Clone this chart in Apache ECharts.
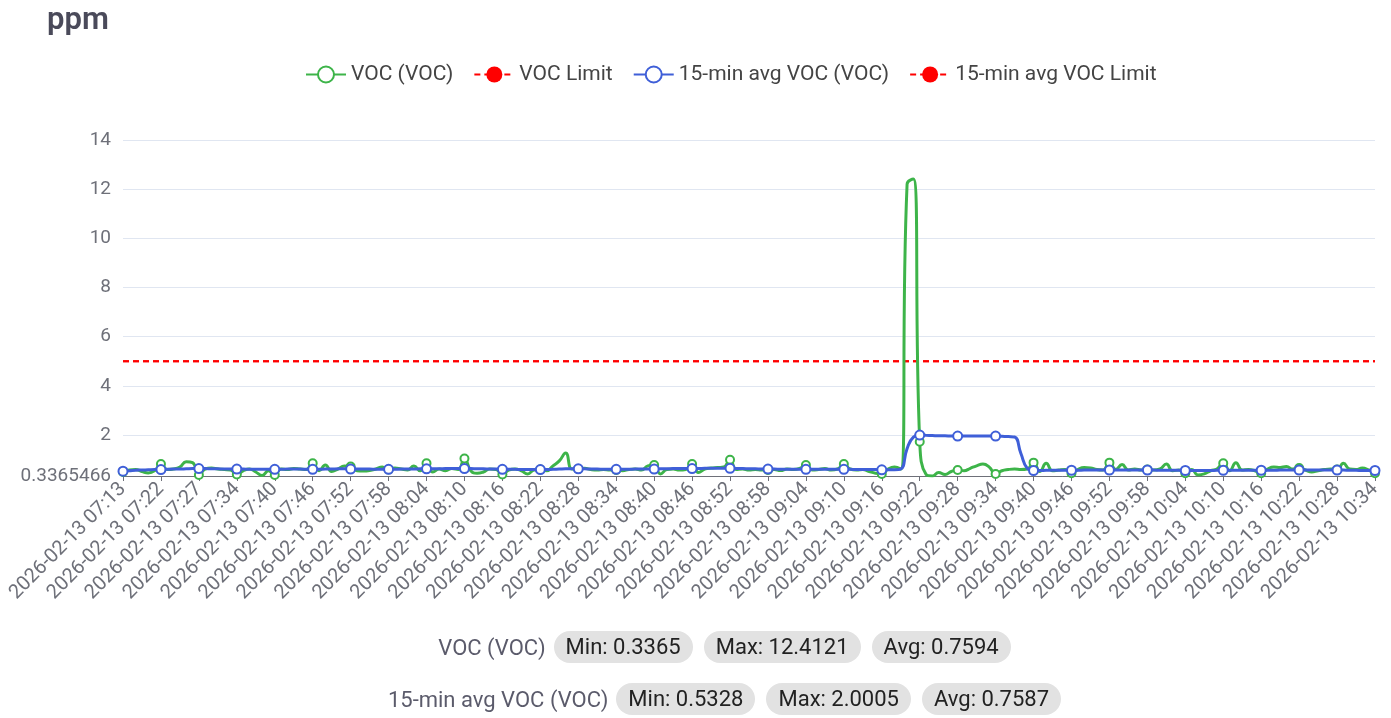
<!DOCTYPE html>
<html>
<head>
<meta charset="utf-8">
<script src="https://cdn.jsdelivr.net/npm/echarts@6/dist/echarts.min.js"></script>
<style>
  html, body { margin: 0; padding: 0; background: #fff; width: 1391px; height: 718px; overflow: hidden; }
  #chart { position: absolute; left: 0; top: 0; width: 1391px; height: 718px; }
  .stats { position: absolute; left: 58px; right: 0; display: flex; justify-content: center; align-items: center; font-family: Roboto, "Noto Sans", sans-serif; }
  .stats .name { color: #5b5b6b; font-size: 22px; margin-right: 8px; }
  .stats .pill { background: #e2e2e2; border-radius: 16px; padding: 0 12px; height: 32px; line-height: 32px; font-size: 22px; color: #222; margin-right: 11px; }
  .stats .pill:last-child { margin-right: 0; }
</style>
</head>
<body>
<div id="chart"></div>
<div class="stats" id="stats1" style="top:631px"></div>
<div class="stats" id="stats2" style="top:683px"></div>
<script>
// Measurement day and sample times (irregular at the start, then one per minute)
const day = '2026-02-13';
const firstTimes = [
  '07:13:00', '07:14:30', '07:16:00', '07:17:30', '07:19:00', '07:20:30',
  '07:22:00', '07:22:50', '07:23:40', '07:24:30', '07:25:20', '07:26:10',
  '07:27:00', '07:28:10', '07:29:20', '07:30:30', '07:31:40', '07:32:50'
];
const minuteStart = '07:34';
const minuteEnd = '10:34';

// VOC readings (ppm)
const vocValues = [
  0.50, 0.58, 0.60, 0.52, 0.46, 0.55,
  0.82, 0.60, 0.62, 0.70, 0.92, 0.88,
  0.38, 0.62, 0.66, 0.62, 0.60, 0.58,
  0.40, 0.55, 0.62, 0.50, 0.36, 0.55,
  0.38, 0.62, 0.60, 0.64, 0.62, 0.60,
  0.85, 0.55, 0.78, 0.52, 0.62, 0.74,
  0.72, 0.55, 0.54, 0.56, 0.62, 0.70,
  0.60, 0.66, 0.62, 0.58, 0.74, 0.55,
  0.85, 0.50, 0.62, 0.55, 0.64, 0.60,
  1.05, 0.55, 0.45, 0.50, 0.62, 0.60,
  0.40, 0.58, 0.62, 0.55, 0.42, 0.58,
  0.60, 0.55, 0.75, 0.95, 1.27, 0.62,
  0.62, 0.65, 0.60, 0.58, 0.60, 0.58,
  0.58, 0.55, 0.60, 0.62, 0.58, 0.75,
  0.78, 0.42, 0.60, 0.62, 0.58, 0.60,
  0.82, 0.48, 0.62, 0.66, 0.68, 0.70,
  1.00, 0.60, 0.62, 0.58, 0.60, 0.58,
  0.58, 0.60, 0.56, 0.62, 0.60, 0.64,
  0.78, 0.58, 0.60, 0.64, 0.58, 0.62,
  0.82, 0.62, 0.58, 0.60, 0.52, 0.45,
  0.42, 0.62, 0.70, 0.62, 12.20, 12.4121,
  1.73, 0.40, 0.3365466, 0.48, 0.40, 0.52,
  0.58, 0.55, 0.65, 0.75, 0.82, 0.70,
  0.42, 0.55, 0.60, 0.62, 0.60, 0.62,
  0.88, 0.52, 0.85, 0.55, 0.58, 0.60,
  0.45, 0.60, 0.68, 0.66, 0.60, 0.58,
  0.88, 0.60, 0.80, 0.58, 0.62, 0.58,
  0.60, 0.58, 0.62, 0.82, 0.55, 0.58,
  0.45, 0.60, 0.38, 0.42, 0.55, 0.62,
  0.85, 0.55, 0.88, 0.58, 0.60, 0.55,
  0.45, 0.62, 0.70, 0.68, 0.72, 0.62,
  0.66, 0.58, 0.50, 0.55, 0.60, 0.62,
  0.60, 0.85, 0.62, 0.60, 0.66, 0.58,
  0.45
];

// 15-minute rolling average of VOC (ppm)
const avgValues = [
  0.5328, 0.55, 0.57, 0.58, 0.59, 0.60,
  0.60, 0.61, 0.62, 0.62, 0.63, 0.64,
  0.64, 0.64, 0.63, 0.63, 0.62, 0.62,
  0.62, 0.62, 0.61, 0.61, 0.61, 0.61,
  0.61, 0.61, 0.62, 0.62, 0.62, 0.61,
  0.61, 0.61, 0.62, 0.62, 0.63, 0.63,
  0.62, 0.62, 0.62, 0.62, 0.61, 0.61,
  0.61, 0.61, 0.62, 0.62, 0.62, 0.63,
  0.63, 0.63, 0.63, 0.64, 0.64, 0.64,
  0.64, 0.64, 0.63, 0.63, 0.62, 0.62,
  0.61, 0.61, 0.61, 0.60, 0.60, 0.60,
  0.60, 0.60, 0.61, 0.62, 0.63, 0.63,
  0.63, 0.63, 0.62, 0.62, 0.61, 0.61,
  0.61, 0.61, 0.61, 0.62, 0.62, 0.62,
  0.62, 0.63, 0.63, 0.64, 0.64, 0.64,
  0.64, 0.64, 0.65, 0.65, 0.65, 0.65,
  0.65, 0.64, 0.64, 0.63, 0.63, 0.62,
  0.62, 0.62, 0.61, 0.61, 0.61, 0.61,
  0.61, 0.61, 0.61, 0.61, 0.61, 0.61,
  0.61, 0.61, 0.60, 0.60, 0.60, 0.60,
  0.59, 0.59, 0.59, 0.62, 1.45, 1.92,
  2.0005, 1.99, 1.98, 1.97, 1.97, 1.96,
  1.96, 1.96, 1.96, 1.96, 1.96, 1.96,
  1.96, 1.95, 1.94, 1.92, 1.25, 0.65,
  0.56, 0.56, 0.57, 0.57, 0.57, 0.57,
  0.57, 0.57, 0.58, 0.58, 0.58, 0.58,
  0.58, 0.58, 0.58, 0.58, 0.58, 0.58,
  0.58, 0.58, 0.57, 0.57, 0.57, 0.57,
  0.56, 0.56, 0.56, 0.56, 0.56, 0.57,
  0.57, 0.57, 0.57, 0.57, 0.57, 0.57,
  0.57, 0.57, 0.57, 0.58, 0.58, 0.58,
  0.58, 0.58, 0.58, 0.58, 0.58, 0.58,
  0.58, 0.58, 0.57, 0.57, 0.56, 0.56,
  0.56
];

// Alarm thresholds (ppm)
const vocLimit = 5;
const avgLimit = 5;

// Series names and the summary figures shown under the chart
const seriesNames = ['VOC (VOC)', 'VOC Limit', '15-min avg VOC (VOC)', '15-min avg VOC Limit'];
const vocStats = ['Min: 0.3365', 'Max: 12.4121', 'Avg: 0.7594'];
const avgStats = ['Min: 0.5328', 'Max: 2.0005', 'Avg: 0.7587'];

function pad(n) { return (n < 10 ? '0' : '') + n; }
function toMin(t) { const p = t.split(':'); return +p[0] * 60 + +p[1]; }
const times = firstTimes.slice();
for (let m = toMin(minuteStart); m <= toMin(minuteEnd); m++) {
  times.push(pad(Math.floor(m / 60)) + ':' + pad(m % 60) + ':00');
}
const categories = times.map(t => day + ' ' + t);

const GREEN = '#3db449';
const BLUE = '#3f5fd8';
const RED = '#ff0000';
const font = 'Roboto, "Noto Sans", sans-serif';

const chart = echarts.init(document.getElementById('chart'), null, { renderer: 'canvas' });
chart.setOption({
  animation: false,
  title: {
    text: 'ppm', left: 42, top: 1,
    textStyle: { fontSize: 31, fontWeight: 600, color: '#4a4a5a', fontFamily: font }
  },
  legend: {
    top: 59, left: 300,
    itemWidth: 40, itemHeight: 20, itemGap: 20,
    textStyle: { fontSize: 21, color: '#444', fontFamily: font },
    data: seriesNames
  },
  grid: { left: 123, right: 16, top: 140, bottom: 242 },
  xAxis: {
    type: 'category',
    boundaryGap: false,
    data: categories,
    axisLine: { lineStyle: { color: '#6e7079' } },
    axisTick: { interval: 5, alignWithLabel: true },
    axisLabel: {
      interval: 5, rotate: 45, fontSize: 20, color: '#6e7079', fontFamily: font, margin: 10,
      formatter: v => v.slice(0, 16)
    }
  },
  yAxis: {
    type: 'value',
    min: v => v.min,
    axisLabel: { fontSize: 19, color: '#6e7079', fontFamily: font, margin: 12 },
    splitLine: { lineStyle: { color: '#e0e6f1' } }
  },
  series: [
    {
      name: seriesNames[0], type: 'line', smooth: true, data: vocValues,
      symbol: 'emptyCircle', symbolSize: 8, z: 2,
      lineStyle: { width: 3, color: GREEN },
      itemStyle: { color: GREEN, borderWidth: 2 }
    },
    {
      name: seriesNames[1], type: 'line', data: vocValues.map(() => vocLimit),
      symbol: 'circle', showSymbol: false, z: 1,
      lineStyle: { width: 2, type: [6, 4], color: RED },
      itemStyle: { color: RED }
    },
    {
      name: seriesNames[2], type: 'line', smooth: true, data: avgValues,
      symbol: 'emptyCircle', symbolSize: 9, z: 3,
      lineStyle: { width: 3, color: BLUE },
      itemStyle: { color: BLUE, borderWidth: 2.5 }
    },
    {
      name: seriesNames[3], type: 'line', data: avgValues.map(() => avgLimit),
      symbol: 'circle', showSymbol: false, z: 1,
      lineStyle: { width: 2, type: [6, 4], color: RED },
      itemStyle: { color: RED }
    }
  ]
});

function fillStats(el, name, stats) {
  const n = document.createElement('span');
  n.className = 'name';
  n.textContent = name;
  el.appendChild(n);
  stats.forEach(s => {
    const p = document.createElement('span');
    p.className = 'pill';
    p.textContent = s;
    el.appendChild(p);
  });
}
fillStats(document.getElementById('stats1'), seriesNames[0], vocStats);
fillStats(document.getElementById('stats2'), seriesNames[2], avgStats);
</script>
</body>
</html>
